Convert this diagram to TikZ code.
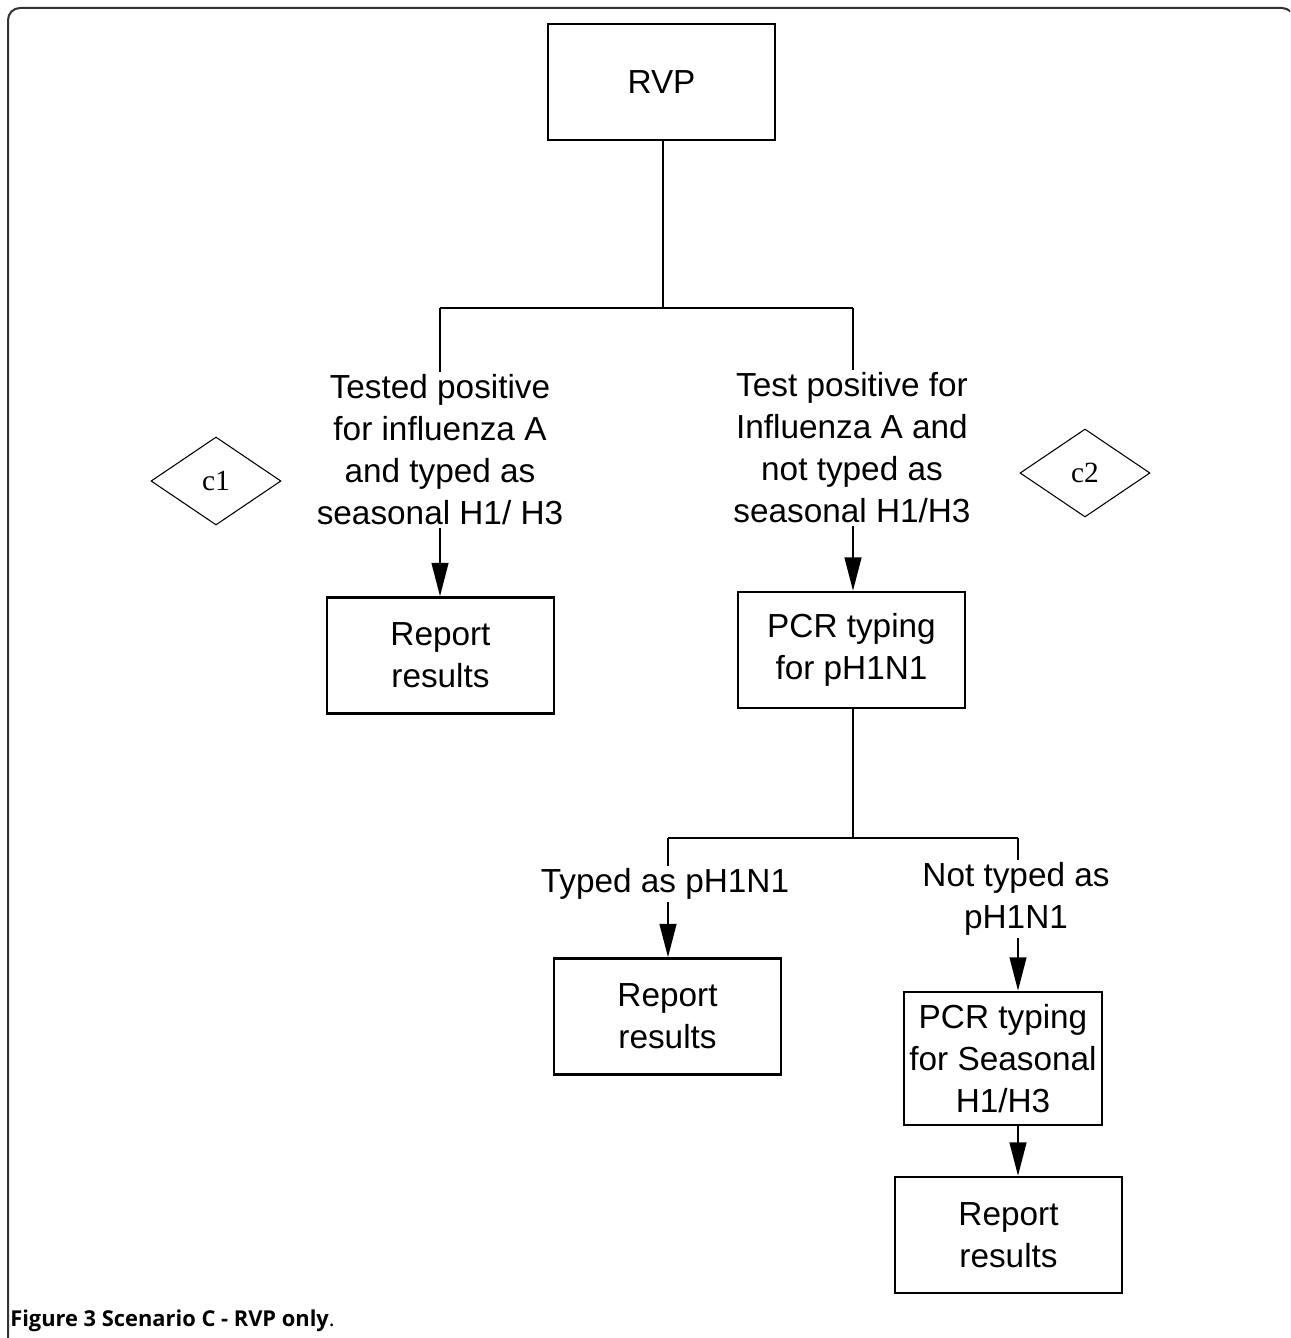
\documentclass[tikz,border=0pt]{standalone}
\usepackage{fontspec}
\setmainfont{Liberation Sans}
\newfontfamily\serifc{Liberation Serif}
\newfontfamily\capfont{Open Sans}
\usetikzlibrary{shapes.geometric,arrows.meta}
\begin{document}
\begin{tikzpicture}[x=0.75pt,y=-0.75pt,
 box/.style={draw,line width=1.8pt,minimum width=170pt,minimum height=87pt,align=center,inner sep=0pt,font=\fontsize{25}{31.5}\selectfont},
 lbl/.style={align=center,inner sep=2pt,font=\fontsize{25}{31.5}\selectfont},
 link/.style={line width=1.6pt},
 arr/.style={line width=1.6pt,-{Triangle[width=12.5pt,length=25pt]}},
 dia/.style={draw,diamond,line width=0.8pt,minimum width=97.5pt,minimum height=66pt,inner sep=0pt,font=\serifc\fontsize{22}{22}\selectfont}]
\useasboundingbox (0,0) rectangle (1290,1338);
\clip (0,0) rectangle (1290,1338);
% frame
\draw[line width=1.5pt,black!80,rounded corners=9pt] (8,1400) -- (8,8) -- (1294,8) -- (1294,1400);
% boxes
\node[box] (rvp) at (661.5,82) {RVP};
\node[box] (rep1) at (440.5,655.5) {Report\\results};
\node[box] (pcr1) at (851.5,650) {PCR typing\\for pH1N1};
\node[box] (rep2) at (667.5,1016.5) {Report\\results};
\node[box,minimum width=148.5pt,minimum height=100pt] (pcr2) at (1003,1058.5) {PCR typing\\for Seasonal\\H1/H3};
\node[box] (rep3) at (1008.5,1235) {Report\\results};
% labels
\node[lbl] (t1) at (440,450) {Tested positive\\for influenza A\\and typed as\\seasonal H1/ H3};
\node[lbl] (t2) at (852,448) {Test positive for\\Influenza A and\\not typed as\\seasonal H1/H3};
\node[lbl] (t3) at (665,884) {Typed as pH1N1};
\node[lbl] (t4) at (1016,899) {Not typed as\\pH1N1};
% diamonds
\node[dia] (c1) at (216,481) {c1};
\node[dia] (c2) at (1085,473) {c2};
% junctions
\coordinate (j1) at (663,308);
\coordinate (j1l) at (440,308);
\coordinate (j1r) at (853,308);
\coordinate (j2) at (853,838);
\coordinate (j2l) at (668,838);
\coordinate (j2r) at (1018,838);
% connectors
\draw[link] (j1 |- rvp.south) -- (j1);
\draw[link] (j1l) -- (j1r);
\draw[link] (j1l) -- (j1l |- t1.north);
\draw[link] (j1r) -- (j1r |- t2.north);
\draw[arr] (j1l |- t1.south) -- (j1l |- rep1.north);
\draw[arr] (j1r |- t2.south) -- (j1r |- pcr1.north);
\draw[link] (j2 |- pcr1.south) -- (j2);
\draw[link] (j2l) -- (j2r);
\draw[link] (j2l) -- (j2l |- t3.north);
\draw[link] (j2r) -- (j2r |- t4.north);
\draw[arr] (j2l |- t3.south) -- (j2l |- rep2.north);
\draw[arr] (j2r |- t4.south) -- (j2r |- pcr2.north);
\draw[arr] (j2r |- pcr2.south) -- (j2r |- rep3.north);
% caption
\node[anchor=base west,inner sep=0pt,font=\capfont\fontsize{16.4}{19}\selectfont] (cap) at (10,1326) {\bfseries Figure 3 Scenario C - RVP only\mdseries.};
\end{tikzpicture}
\end{document}
